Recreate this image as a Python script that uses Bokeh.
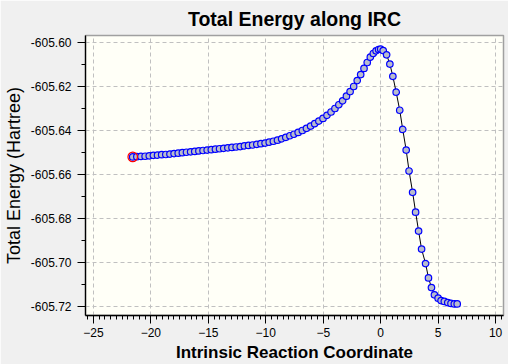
from bokeh.plotting import figure
from bokeh.models import SingleIntervalTicker, NumeralTickFormatter, Range1d, ColumnDataSource
from bokeh.embed import file_html
from bokeh.resources import INLINE

# IRC coordinate and total energy (Hartree)
irc_x = [-21.58, -21.22, -20.86, -20.50, -20.14, -19.78, -19.42, -19.06, -18.70, -18.34,
         -17.98, -17.62, -17.26, -16.90, -16.54, -16.18, -15.82, -15.46, -15.10, -14.74,
         -14.38, -14.02, -13.66, -13.30, -12.94, -12.58, -12.22, -11.86, -11.50, -11.14,
         -10.78, -10.42, -10.06, -9.70, -9.34, -8.98, -8.62, -8.26, -7.90, -7.54,
         -7.18, -6.82, -6.46, -6.10, -5.74, -5.38, -5.02, -4.67, -4.32, -3.98,
         -3.64, -3.31, -2.98, -2.66, -2.35, -2.04, -1.74, -1.45, -1.17, -0.90,
         -0.64, -0.40, -0.18, 0.00, 0.22, 0.52, 0.80, 1.06, 1.35, 1.66,
         1.92, 2.22, 2.47, 2.78, 3.04, 3.30, 3.56, 3.91, 4.16, 4.42,
         4.68, 5.00, 5.26, 5.54, 5.84, 6.12, 6.41, 6.66]
energy = [-605.6520, -605.6519, -605.6518, -605.6517, -605.6515, -605.6513, -605.6512, -605.6510, -605.6509, -605.6507,
          -605.6505, -605.6503, -605.6501, -605.6499, -605.6497, -605.6495, -605.6493, -605.6491, -605.6489, -605.6487,
          -605.6485, -605.6483, -605.6481, -605.6479, -605.6477, -605.6475, -605.6473, -605.6470, -605.6468, -605.6466,
          -605.6463, -605.6460, -605.6457, -605.6453, -605.6449, -605.6444, -605.6438, -605.6431, -605.6424, -605.6417,
          -605.6409, -605.6400, -605.6390, -605.6380, -605.6369, -605.6357, -605.6345, -605.6331, -605.6316, -605.6300,
          -605.6283, -605.6265, -605.6244, -605.6223, -605.6200, -605.6173, -605.6146, -605.6118, -605.6091, -605.6067,
          -605.6050, -605.6038, -605.6032, -605.6030, -605.6037, -605.6056, -605.6098, -605.6154, -605.6226, -605.6308,
          -605.6395, -605.6489, -605.6584, -605.6681, -605.6771, -605.6857, -605.6939, -605.7005, -605.7070, -605.7114,
          -605.7147, -605.7162, -605.7173, -605.7177, -605.7182, -605.7186, -605.7188, -605.7188]

title_text = "Total Energy along IRC"
x_label = "Intrinsic Reaction Coordinate"
y_label = "Total Energy (Hartree)"

FONT = "Liberation Sans"

p = figure(width=508, height=364, output_backend="svg", toolbar_location=None,
           x_range=Range1d(-25.69, 10.69), y_range=Range1d(-605.72408, -605.59683),
           min_border_left=81, min_border_right=5, min_border_top=34, min_border_bottom=49)

p.background_fill_color = "#fffff7"
p.border_fill_color = "#f0f0f0"
p.outline_line_color = "#a0a0a0"
p.outline_line_width = 1.5

p.title.text = title_text
p.title.align = "center"
p.title.text_font = FONT
p.title.text_font_size = "19.5px"
p.title.text_font_style = "bold"
p.title.text_color = "#000000"
p.title.vertical_align = "bottom"
p.title.standoff = 11

# axes
p.xaxis.ticker = SingleIntervalTicker(interval=5, num_minor_ticks=10)
p.yaxis.ticker = SingleIntervalTicker(interval=0.02, num_minor_ticks=2)
p.yaxis.formatter = NumeralTickFormatter(format="0.00")
for ax in (p.xaxis, p.yaxis):
    ax.axis_line_color = "#000000"
    ax.axis_line_width = 1.3
    ax.major_tick_line_color = "#000000"
    ax.minor_tick_line_color = "#000000"
    ax.major_tick_in = 0
    ax.major_tick_out = 8
    ax.minor_tick_in = 0
    ax.minor_tick_out = 4
    ax.major_label_text_font = FONT
    ax.major_label_text_font_size = "12px"
    ax.major_label_text_color = "#000000"
    ax.axis_label_text_font = FONT
    ax.axis_label_text_color = "#000000"

p.xaxis.axis_label = x_label
p.xaxis.axis_label_text_font_size = "17px"
p.xaxis.axis_label_text_font_style = "bold"
p.xaxis.major_label_standoff = 4
p.xaxis.axis_label_standoff = 3

p.yaxis.axis_label = y_label
p.yaxis.axis_label_text_font_size = "18px"
p.yaxis.axis_label_text_font_style = "normal"
p.yaxis.major_label_standoff = 6
p.yaxis.axis_label_standoff = 4

for g in (p.xgrid, p.ygrid):
    g.grid_line_color = "#c0c0c0"
    g.grid_line_dash = "4 3"
    g.grid_line_width = 1

src = ColumnDataSource(dict(x=irc_x, y=energy))
p.line("x", "y", source=src, line_color="#000000", line_width=1)
p.scatter("x", "y", source=src, size=6.5, marker="circle",
          fill_color="#b8bccc", line_color="#0000ff", line_width=1.2)
p.scatter(x=[irc_x[0]], y=[energy[0]], size=9.5, marker="circle",
          fill_color=None, line_color="#ff0000", line_width=1.2)

open("out.html", "w").write(file_html(p, INLINE))
